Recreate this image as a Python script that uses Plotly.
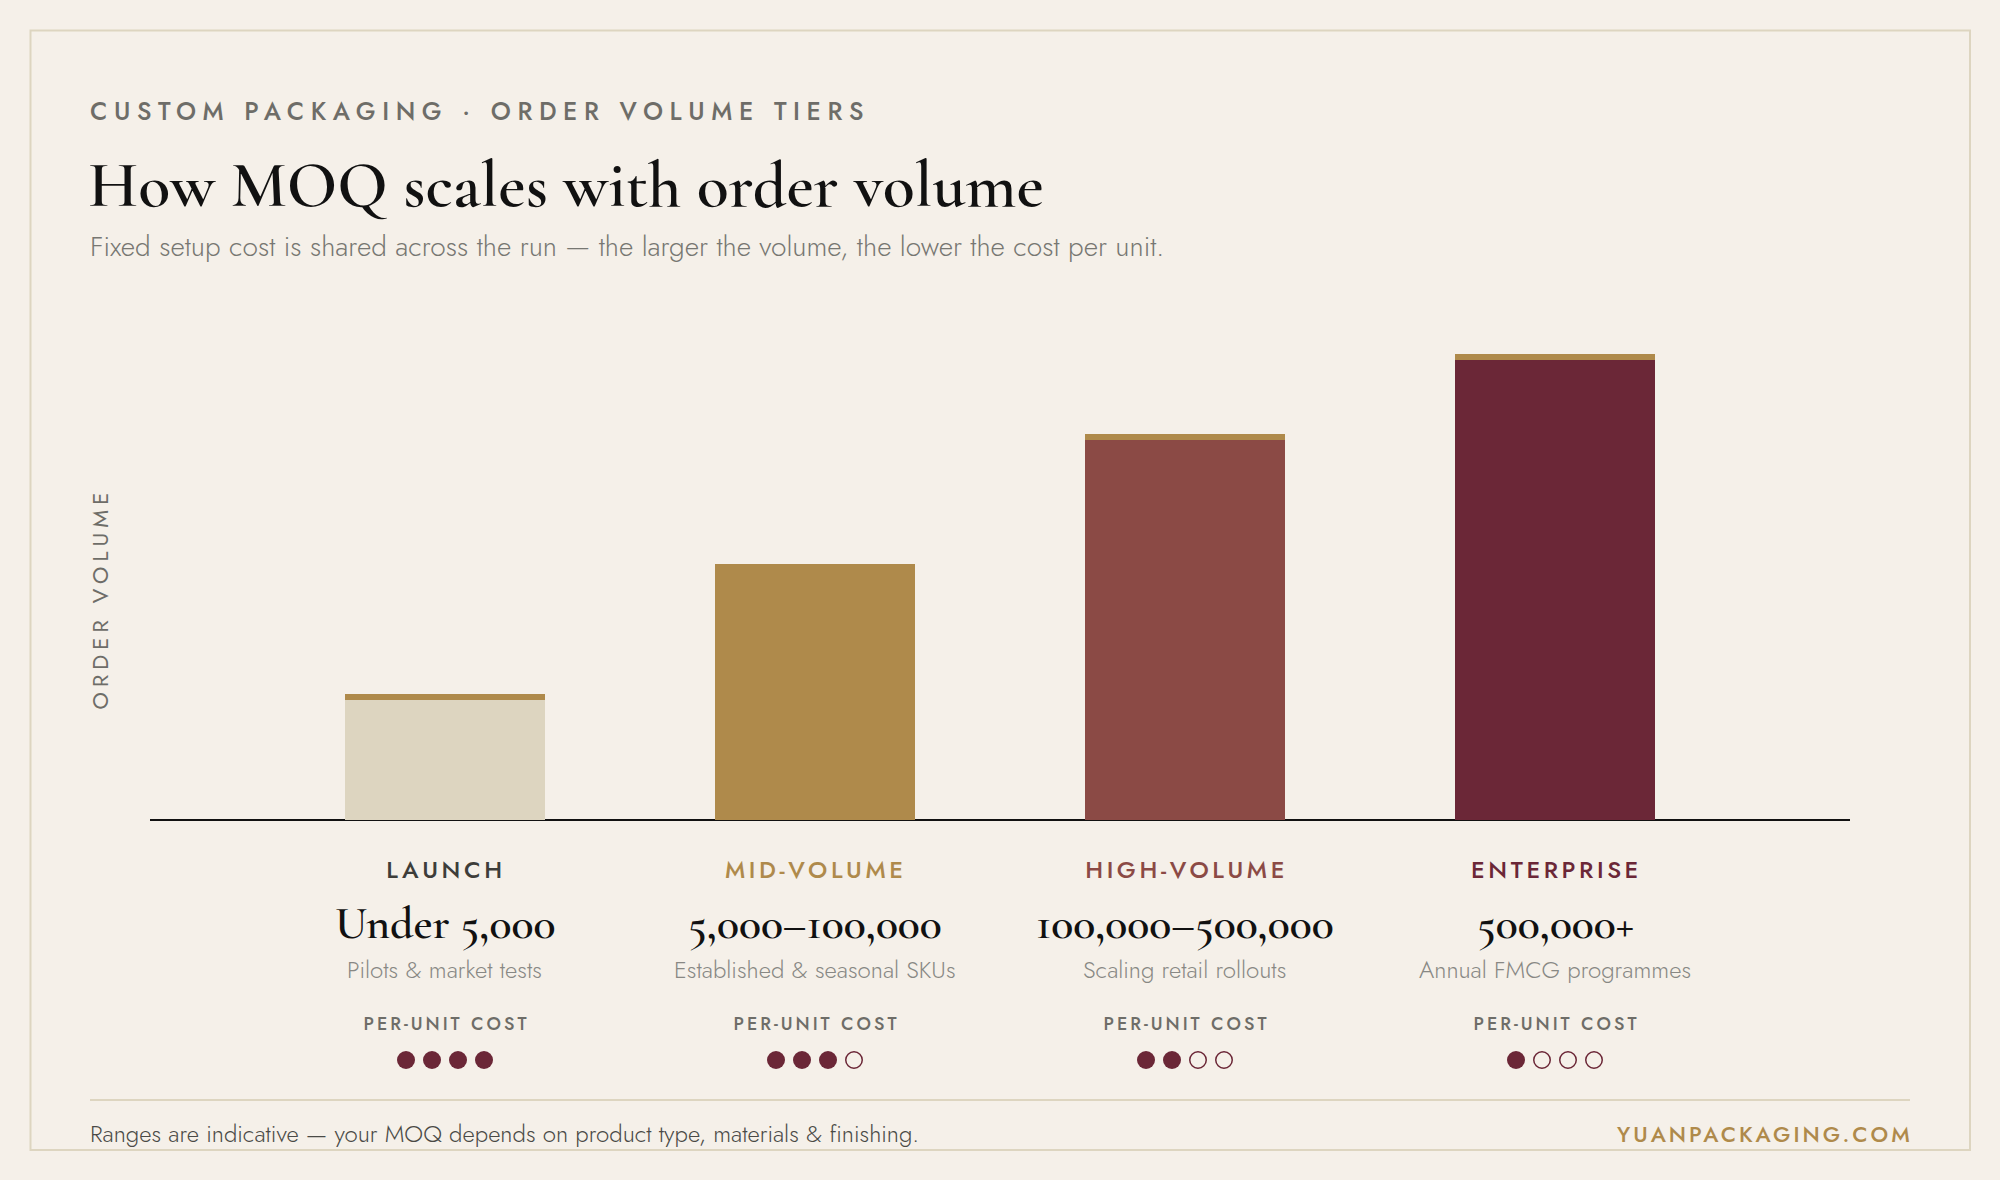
import json
import plotly.graph_objects as go

# ---- data ----
TIERS = ["LAUNCH", "MID-VOLUME", "HIGH-VOLUME", "ENTERPRISE"]
RANGES = ["Under 5,000", "5,000–100,000", "100,000–500,000", "500,000+"]
DESCRIPTIONS = ["Pilots & market tests", "Established & seasonal SKUs", "Scaling retail rollouts", "Annual FMCG programmes"]
BAR_HEIGHTS = [120, 256, 380, 460]
CAP_HEIGHTS = [6, 0, 6, 6]
COST_DOTS_FILLED = [4, 3, 2, 1]
COST_DOTS_TOTAL = 4
BAR_COLORS = ["#DDD5C0", "#AF8A4B", "#8B4A45", "#6B2737"]
LABEL_COLORS = ["#3D3D3A", "#AF8A4B", "#8B4A45", "#6B2737"]

BG = "#F5F0E9"
RULE = "#DDD5C0"
GOLD = "#AF8A4B"
WINE = "#6B2737"
MUTED = "#6E6D68"
SANS = "Jost, Lato, sans-serif"
SERIF = "'Cormorant Garamond', 'Liberation Serif', serif"

W, H = 2000, 1180
L, R, T, B = 150, 150, 250, 80
PW, PH = W - L - R, H - T - B
BASE_Y = 820
STEP = 370.0


def xp(px):
    return (px - L) / PW


def yp(py):
    return 1 - (py - T) / PH


xs = list(range(len(TIERS)))
fig = go.Figure()
fig.add_bar(x=xs, y=BAR_HEIGHTS, marker=dict(color=BAR_COLORS, line_width=0), width=200 / STEP, hoverinfo="skip")
fig.add_bar(x=xs, y=CAP_HEIGHTS, marker=dict(color=GOLD, line_width=0), width=200 / STEP, hoverinfo="skip")

fx, ex = [], []
for i, n in enumerate(COST_DOTS_FILLED):
    for j in range(COST_DOTS_TOTAL):
        dx = i + (j - (COST_DOTS_TOTAL - 1) / 2) * 26 / STEP
        (fx if j < n else ex).append(dx)
fig.add_scatter(x=fx, y=[0.5] * len(fx), yaxis="y2", mode="markers", hoverinfo="skip",
                marker=dict(size=18, color=WINE, line_width=0))
fig.add_scatter(x=ex, y=[0.5] * len(ex), yaxis="y2", mode="markers", hoverinfo="skip",
                marker=dict(size=16.5, color="rgba(0,0,0,0)", line=dict(color=WINE, width=1.5)))

anns = []
spacing = []


def text(s, x, y, size, color, family=SANS, weight=400, ls=0, anchor="center", ref="paper", angle=0):
    anns.append(dict(text=s, x=x if ref == "x" else xp(x), xref=ref, y=yp(y), yref="paper", showarrow=False,
                     xanchor=anchor, yanchor="middle", align=anchor, borderpad=0, borderwidth=0, textangle=angle,
                     font=dict(family=family, size=size, color=color, weight=weight)))
    spacing.append(ls)


text("CUSTOM PACKAGING · ORDER VOLUME TIERS", 90, 111, 25, MUTED, weight=500, ls=6.6, anchor="left")
text("How MOQ scales with order volume", 88, 185, 66, "#111111", SERIF, 600, anchor="left")
text("Fixed setup cost is shared across the run — the larger the volume, the lower the cost per unit.", 90, 246, 28,
     "#777772", weight=300, anchor="left")
text("ORDER VOLUME", 99.5, 598.5, 22, MUTED, weight=400, ls=5.1, angle=-90)
text("Ranges are indicative — your MOQ depends on product type, materials &amp; finishing.", 90, 1133, 24, "#4A4A46",
     weight=300, anchor="left")
text("YUANPACKAGING.COM", 1913, 1134, 22, GOLD, weight=500, ls=3, anchor="right")
for i in xs:
    text(TIERS[i], i + 1.4 / STEP, 869, 24, LABEL_COLORS[i], weight=500, ls=3.6, ref="x")
    text(RANGES[i], i, 923, 46, "#111111", SERIF, 600, ref="x")
    text(DESCRIPTIONS[i].replace("&", "&amp;"), i - 0.5 / STEP, 969, 24, "#888884", weight=300, ref="x")
    text("PER-UNIT COST", i + 1.4 / STEP, 1024, 18, MUTED, weight=500, ls=3, ref="x")

shapes = [
    dict(type="rect", xref="paper", yref="paper", x0=xp(30.5), x1=xp(1970), y0=yp(30.5), y1=yp(1150),
         line=dict(color=RULE, width=2), fillcolor="rgba(0,0,0,0)", layer="below"),
    dict(type="line", xref="paper", yref="paper", x0=xp(90), x1=xp(1910), y0=yp(1100), y1=yp(1100),
         line=dict(color=RULE, width=2), layer="below"),
]

fig.update_layout(
    width=W, height=H, autosize=False, barmode="stack", bargap=0, showlegend=False,
    margin=dict(l=L, r=R, t=T, b=B, pad=0), paper_bgcolor=BG, plot_bgcolor="rgba(0,0,0,0)",
    xaxis=dict(range=[-(445 - L) / STEP, (L + PW - 445) / STEP], showgrid=False, zeroline=False, showticklabels=False,
               ticks="", showline=False, fixedrange=True, anchor="y"),
    yaxis=dict(domain=[yp(BASE_Y), 1], range=[0, BASE_Y - T], showgrid=False, showticklabels=False, ticks="",
               fixedrange=True, zeroline=True, zerolinecolor="#111111", zerolinewidth=2),
    yaxis2=dict(domain=[yp(1080), yp(1040)], range=[0, 1], showgrid=False, zeroline=False, showticklabels=False,
                ticks="", fixedrange=True, anchor="x"),
    annotations=anns, shapes=shapes,
)

post = """
document.body.style.margin = '0';
document.body.style.background = '%s';
var sp = %s;
document.querySelectorAll('.annotation-text').forEach(function (el, i) {
  if (sp[i]) el.style.letterSpacing = sp[i] + 'px';
});
""" % (BG, json.dumps(spacing))

fig.write_html("out.html", post_script=post, config={"displayModeBar": False})
